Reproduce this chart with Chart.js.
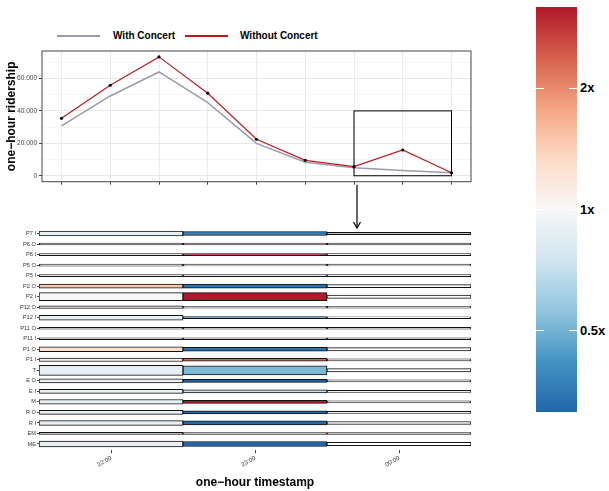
<!DOCTYPE html>
<html><head><meta charset="utf-8">
<script src="https://cdn.jsdelivr.net/npm/chart.js@4"></script>
<style>
html,body{margin:0;padding:0;background:#fff;width:609px;height:491px;overflow:hidden;font-family:"Liberation Sans",Arial,sans-serif;}
canvas{position:absolute;left:0;}
#topChart{top:40px;z-index:2;}
#bottomChart{top:222px;z-index:1;}
.legline{position:absolute;height:2px;}
.legtext{position:absolute;font-weight:bold;font-size:10px;color:#000;line-height:12px;white-space:nowrap;}
#cbar{position:absolute;left:536px;top:7px;width:41px;height:405px;}
.cbtick{position:absolute;height:1px;width:8px;background:#fff;}
.cblab{position:absolute;left:580px;font-weight:bold;font-size:13px;line-height:16px;color:#000;}
</style></head><body>
<div class="legline" style="left:57px;top:35px;width:43px;background:#9d9aab;"></div>
<div class="legtext" style="left:113px;top:30px;">With Concert</div>
<div class="legline" style="left:185px;top:35px;width:43px;height:1.5px;background:#b71c24;"></div>
<div class="legtext" style="left:240px;top:30px;">Without Concert</div>
<div id="cbar"></div>
<canvas id="topChart" width="480" height="192"></canvas>
<canvas id="bottomChart" width="480" height="269"></canvas>
<script>
// ---------- top chart data ----------
const hourIndex = [0, 1, 2, 3, 4, 5, 6, 7, 8];
const withConcert = [30700, 49200, 64000, 45100, 20000, 8300, 4900, 3300, 1850];
const withoutConcert = [35400, 55800, 73300, 50900, 22500, 9500, 5600, 15900, 1850];
const yTickValues = [0, 10000, 20000, 30000, 40000, 50000, 60000, 70000];
const zoomFrom = 6, zoomTo = 8, zoomLow = 0, zoomHigh = 40000;

// ---------- heatmap data ----------
const stations = ['P7 I','P6 O','P6 I','P5 O','P5 I','P2 O','P2 I','P12 O','P12 I','P11 O','P11 I','P1 O','P1 I','T','E O','E I','M','R O','R I','EM','ME'];
const timestamps = ['22:00', '23:00', '00:00'];
const size22 = [0.47,0.19,0.19,0.19,0.19,0.41,0.76,0.24,0.47,0.18,0.18,0.45,0.33,0.95,0.38,0.38,0.45,0.38,0.45,0.2,0.54];
const size23 = [0.38,0.18,0.19,0.18,0.18,0.38,0.76,0.18,0.2,0.18,0.18,0.38,0.28,0.86,0.30,0.30,0.28,0.30,0.38,0.18,0.47];
const size00 = [0.21,0.18,0.19,0.18,0.18,0.30,0.32,0.18,0.18,0.18,0.18,0.30,0.19,0.32,0.2,0.19,0.19,0.19,0.28,0.18,0.32];
const ratio22 = [0.88,1,1,1,1,1.5,1.0,0.92,0.88,1,1,1.26,1.05,0.87,0.9,0.9,0.9,0.9,0.9,1,0.9];
const ratio23 = [0.36,1,3,1,1,0.34,3.3,1,0.45,1,1,0.34,2.3,0.52,0.31,0.72,3.3,0.3,0.32,1,0.3];
const ratio00 = [null,null,null,null,null,null,null,null,null,null,null,null,null,null,null,null,null,null,null,null,null];
const legendRatios = [2, 1, 0.5];
const legendLabels = ['2x', '1x', '0.5x'];
const ratioLimit = 3.18;
const thinCell = 0.22;

const rdbu = ['#B2182B','#D6604D','#F4A582','#FDDBC7','#F7F7F7','#D1E5F0','#92C5DE','#4393C3','#2166AC'];
function hex(c){return [1,3,5].map(i=>parseInt(c.substr(i,2),16));}
function ratioColor(r){
  if (r == null) return '#ffffff';
  let t = Math.log2(r) / Math.log2(ratioLimit);
  t = Math.max(-1, Math.min(1, t));
  const pos = (1 - t) / 2 * (rdbu.length - 1);
  const i = Math.min(Math.floor(pos), rdbu.length - 2);
  const f = pos - i;
  const a = hex(rdbu[i]), b = hex(rdbu[i+1]);
  return 'rgb(' + a.map((v,k)=>Math.round(v + (b[k]-v)*f)).join(',') + ')';
}

// colour bar
(function(){
  const bar = document.getElementById('cbar');
  bar.style.background = 'linear-gradient(to bottom,' + rdbu.join(',') + ')';
  const top = 7, h = 405, L = Math.log2(ratioLimit);
  legendRatios.forEach((v, i) => {
    const y = top + (L - Math.log2(v)) / (2 * L) * h;
    [536, 569].forEach(x => {
      const d = document.createElement('div');
      d.className = 'cbtick'; d.style.left = x + 'px'; d.style.top = (y - 0.5) + 'px';
      document.body.appendChild(d);
    });
    const l = document.createElement('div');
    l.className = 'cblab'; l.textContent = legendLabels[i]; l.style.top = (y - 8) + 'px';
    document.body.appendChild(l);
  });
})();

const fmt = v => String(v).replace(/\B(?=(\d{3})+(?!\d))/g, '.');

const topDecor = {
  id: 'topDecor',
  afterDatasetsDraw(chart) {
    const {ctx, chartArea: a, scales: {x, y}} = chart;
    ctx.save();
    ctx.strokeStyle = '#000'; ctx.lineWidth = 1;
    const x0 = x.getPixelForValue(zoomFrom), x1 = x.getPixelForValue(zoomTo);
    const y0 = y.getPixelForValue(zoomHigh), y1 = y.getPixelForValue(zoomLow);
    ctx.strokeRect(x0, y0, x1 - x0, y1 - y0);
    ctx.strokeStyle = '#444'; ctx.lineWidth = 1;
    ctx.strokeRect(a.left, a.top, a.right - a.left, a.bottom - a.top);
    const ax = x0 + 3, ay0 = a.bottom + 3, ay1 = chart.height - 4;
    ctx.strokeStyle = '#000'; ctx.lineWidth = 1.2;
    ctx.beginPath(); ctx.moveTo(ax, ay0); ctx.lineTo(ax, ay1); ctx.stroke();
    ctx.beginPath(); ctx.moveTo(ax - 3.5, ay1 - 6); ctx.lineTo(ax, ay1); ctx.lineTo(ax + 3.5, ay1 - 6); ctx.stroke();
    ctx.restore();
  }
};

new Chart(document.getElementById('topChart'), {
  type: 'line',
  data: {
    datasets: [
      { label: 'Without Concert', data: hourIndex.map((h,i)=>({x:h, y:withoutConcert[i]})),
        borderColor: '#b71c24', borderWidth: 1.2, pointRadius: 1.6, pointBackgroundColor: '#000', pointBorderWidth: 0, tension: 0 },
      { label: 'With Concert', data: hourIndex.map((h,i)=>({x:h, y:withConcert[i]})),
        borderColor: '#9d9aab', borderWidth: 1.5, pointRadius: 0, tension: 0 }
    ]
  },
  options: {
    responsive: false, animation: false,
    layout: { padding: { left: 0, right: 9, top: 11, bottom: 0 } },
    plugins: { legend: { display: false }, tooltip: { enabled: false } },
    scales: {
      x: { type: 'linear', min: -0.4, max: 8.4,
        afterBuildTicks: s => { s.ticks = hourIndex.map(v => ({ value: v })); },
        ticks: { display: false },
        grid: { color: '#ebebeb', lineWidth: 1, tickLength: 3, tickColor: '#444' },
        border: { display: false },
        afterFit: s => { s.height = 50.3; } },
      y: { min: -3663, max: 76933,
        afterBuildTicks: s => { s.ticks = yTickValues.map(v => ({ value: v })); },
        ticks: { callback: v => (v % 20000 === 0 ? fmt(v) : ''), font: { family: 'Liberation Sans', size: 6.5 }, color: '#444', padding: 2 },
        grid: { color: c => (c.tick && c.tick.value % 20000 === 0 ? '#e6e6e6' : '#f1f1f1'),
                lineWidth: c => (c.tick && c.tick.value % 20000 === 0 ? 1 : 0.7),
                tickLength: 3, tickColor: c => (c.tick && c.tick.value % 20000 === 0 ? '#444' : 'rgba(0,0,0,0)') },
        border: { display: false },
        title: { display: true, text: 'one−hour ridership', color: '#000', font: { family: 'Liberation Sans', size: 12, weight: 'bold' }, padding: { top: 4, bottom: 0 } },
        afterFit: s => { s.width = 42; } }
    }
  },
  plugins: [topDecor]
});

// ---------- heatmap ----------
const sizes = [size22, size23, size00];
const ratios = [ratio22, ratio23, ratio00];
const heatDatasets = stations.map((name, r) => ({
  label: name,
  data: timestamps.map((t, c) => [r - sizes[c][r] / 2, r + sizes[c][r] / 2]),
  backgroundColor: timestamps.map((t, c) => ratioColor(ratios[c][r])),
  borderColor: '#111',
  borderWidth: timestamps.map((t, c) => (sizes[c][r] < thinCell ? {top: 3, bottom: 3, left: 1, right: 1} : 1)),
  borderSkipped: false,
  grouped: false, barPercentage: 1, categoryPercentage: 1
}));

new Chart(document.getElementById('bottomChart'), {
  type: 'bar',
  data: { labels: timestamps, datasets: heatDatasets },
  options: {
    responsive: false, animation: false,
    layout: { padding: { left: 0, right: 9, top: 5.2, bottom: 0 } },
    plugins: { legend: { display: false }, tooltip: { enabled: false } },
    scales: {
      x: { type: 'category', offset: true,
        grid: { display: true, drawOnChartArea: false, offset: false, tickLength: 3, tickColor: '#444' },
        border: { display: false },
        ticks: { minRotation: 30, maxRotation: 30, font: { family: 'Liberation Sans', size: 6.2 }, color: '#333', padding: 1 },
        title: { display: true, text: 'one−hour timestamp', color: '#000', font: { family: 'Liberation Sans', size: 12, weight: 'bold' }, padding: { top: 0, bottom: 1 } },
        afterFit: s => { s.height = 40.7; } },
      y: { type: 'linear', reverse: true, min: -0.6, max: 20.6,
        afterBuildTicks: s => { s.ticks = stations.map((n, i) => ({ value: i })); },
        ticks: { callback: v => stations[v], font: { family: 'Liberation Sans', size: 5.7 }, color: '#333', padding: 1, autoSkip: false },
        grid: { display: true, drawOnChartArea: false, tickLength: 2, tickColor: '#444' },
        border: { display: false },
        afterFit: s => { s.width = 39; } }
    }
  }
});
</script>
</body></html>
